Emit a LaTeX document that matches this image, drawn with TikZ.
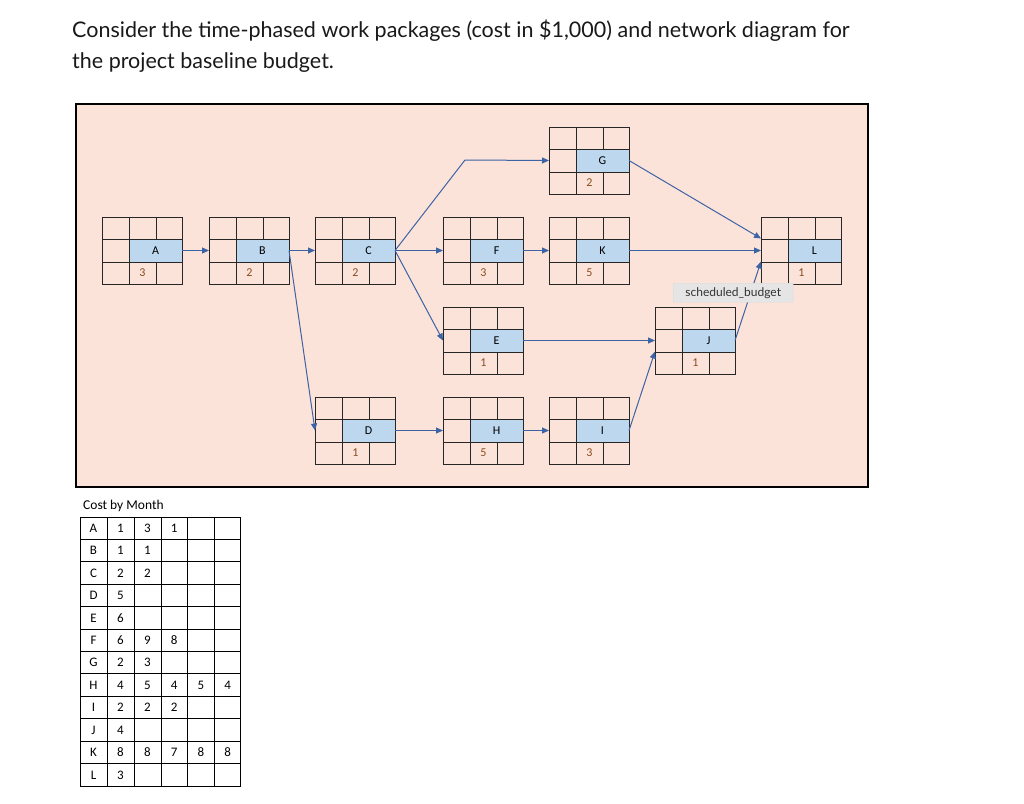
\documentclass[tikz,border=0pt]{standalone}
\usepackage{fontspec}
\setmainfont{Lato}
\newfontfamily\calfnt{Carlito}
\usetikzlibrary{calc,arrows.meta}
\definecolor{pinkbg}{HTML}{FCE3D9}
\definecolor{cellblue}{HTML}{BDD7EE}
\definecolor{arrowblue}{HTML}{3C63A4}
\definecolor{durcol}{HTML}{8A4A1C}
\newcommand{\wpbox}[5]{%
  \node[wpnode] (#1) at (#2,#3) {};
  \fill[cellblue] ($(#1.north west)+(27,22)$) rectangle ($(#1.north east)+(0,45)$);
  \draw[grid] (#1.north west) rectangle (#1.south east);
  \draw[grid] ($(#1.north west)+(27,0)$) -- ($(#1.south west)+(27,0)$);
  \draw[grid] ($(#1.north west)+(54,0)$) -- ($(#1.north west)+(54,22)$);
  \draw[grid] ($(#1.north west)+(54,45)$) -- ($(#1.south west)+(54,0)$);
  \draw[grid] ($(#1.north west)+(0,22)$) -- ($(#1.north east)+(0,22)$);
  \draw[grid] ($(#1.north west)+(0,45)$) -- ($(#1.north east)+(0,45)$);
  \node[font=\calfnt\fontsize{12}{14}\selectfont] at ($(#1.north west)+(53.5,33.5)$) {#4};
  \node[font=\calfnt\fontsize{12}{14}\selectfont,text=durcol] at ($(#1.north west)+(40.5,56)$) {#5};
}
\begin{document}
\begin{tikzpicture}[x=1pt,y=-1pt,
  wpnode/.style={rectangle,minimum width=80pt,minimum height=67pt,anchor=north west,inner sep=0pt,outer sep=0pt},
  grid/.style={draw=black!85,line width=1pt},
  conn/.style={draw=arrowblue,line width=1pt,-{Triangle[length=7pt,width=6pt]}},
  cell/.style={font=\calfnt\fontsize{13}{15}\selectfont}]
\useasboundingbox[fill=white] (0,0) rectangle (1024,803);
\node[anchor=north west,align=left,font=\fontsize{21.5}{31}\selectfont,text=black!90,inner sep=0pt] (title) at (72,20)
 {Consider the time-phased work packages (cost in \$1,000) and network diagram for\\the project baseline budget.};
\node[draw=black,line width=1.6pt,fill=pinkbg,anchor=north west,minimum width=792pt,minimum height=383pt,inner sep=0pt] (bg) at (75,103) {};
\wpbox{A}{102}{217}{A}{3}
\wpbox{B}{209}{217}{B}{2}
\wpbox{C}{315}{217}{C}{2}
\wpbox{F}{443}{217}{F}{3}
\wpbox{K}{549}{217}{K}{5}
\wpbox{L}{761}{217}{L}{1}
\wpbox{G}{549}{127}{G}{2}
\wpbox{E}{443}{307}{E}{1}
\wpbox{J}{655}{307}{J}{1}
\wpbox{D}{315}{397}{D}{1}
\wpbox{H}{443}{397}{H}{5}
\wpbox{I}{549}{397}{I}{3}
\coordinate (gbend) at (465,160);
\draw[conn] (A.east) -- (B.west);
\draw[conn] (B.east) -- (C.west);
\draw[conn] (B.east) -- (D.west);
\draw[conn] (C.east) -- (gbend) -- (G.west);
\draw[conn] (C.east) -- (F.west);
\draw[conn] (C.east) -- (E.west);
\draw[conn] (F.east) -- (K.west);
\draw[conn] (K.east) -- (L.west);
\draw[conn] (G.east) -- ($(L.west)+(0,-12)$);
\draw[conn] (E.east) -- (J.west);
\draw[conn] (D.east) -- (H.west);
\draw[conn] (H.east) -- (I.west);
\draw[conn] (I.east) -- ($(J.west)+(0,11)$);
\draw[conn] (J.east) -- ($(L.west)+(0,11)$);
\node[fill=black!10,draw=black!15,rounded corners=1pt,anchor=north west,inner sep=2pt,font=\fontsize{12}{13}\selectfont,text=black!80,minimum width=120pt,minimum height=19pt] (tip) at (673,283) {scheduled\_budget};
\node[anchor=south west,font=\calfnt\fontsize{13.5}{15}\selectfont,inner sep=0pt] (cbm) at (83,512) {Cost by Month};
\node[draw=black,line width=1.4pt,anchor=north west,minimum width=160pt,minimum height=269pt,inner sep=0pt] (tbl) at (80,517) {};
\foreach \i in {1,...,11} \draw[black,line width=1pt] (80,517+\i*22.42) -- (240,517+\i*22.42);
\foreach \xx in {107,134,161,187,214} \draw[black,line width=1pt] (\xx,517) -- (\xx,786);
\foreach \r/\vals [count=\k from 0] in {A/{1,3,1},B/{1,1},C/{2,2},D/{5},E/{6},F/{6,9,8},G/{2,3},H/{4,5,4,5,4},I/{2,2,2},J/{4},K/{8,8,7,8,8},L/{3}} {
  \node[cell] at (93.5,528.2+\k*22.42) {\r};
  \foreach \v [count=\c from 0] in \vals
    \node[cell] at (120.5+\c*26.8,528.2+\k*22.42) {\v};
}
\end{tikzpicture}
\end{document}
